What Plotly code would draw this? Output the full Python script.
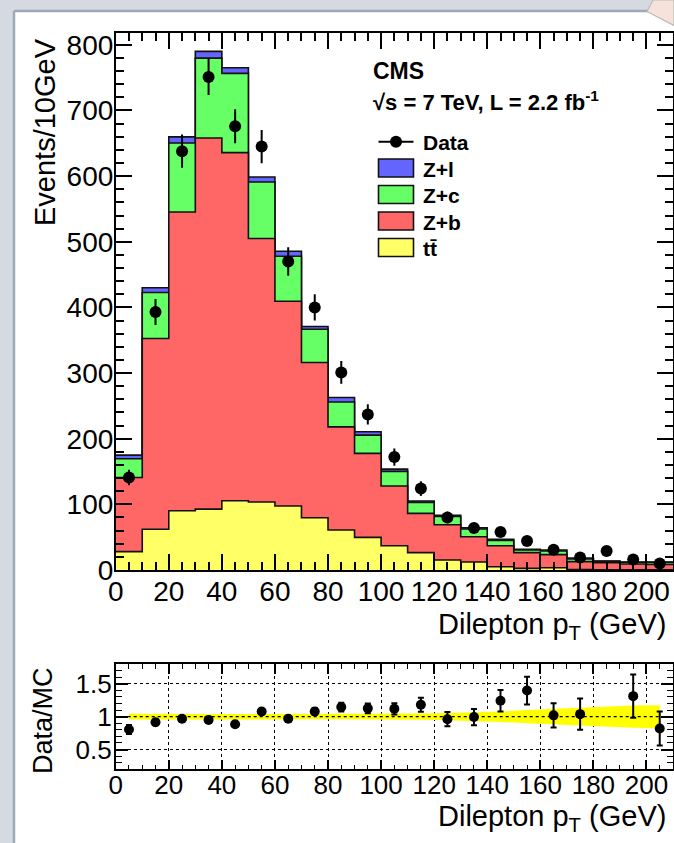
import numpy as np
import plotly.graph_objects as go

# Dilepton pT binning (10 GeV bins from 0 to 210 GeV)
bin_edges = list(range(0, 220, 10))
bin_centers = [e + 5 for e in bin_edges[:-1]]

# Stacked MC components per bin (events / 10 GeV)
ttbar = [28.0, 62.0, 90.3, 92.8, 105.5, 103.5, 97.4, 79.6, 60.9, 49.7, 37.0,
         26.4, 15.2, 12.2, 5.0, 2.5, 3.5, 0.5, 0.3, 0.3, 0.3]
z_b = [113.0, 290.6, 455.1, 565.2, 530.3, 401.4, 312.0, 236.4, 157.1, 127.9, 90.9,
       59.8, 53.8, 38.5, 32.0, 23.9, 19.9, 12.2, 10.9, 8.8, 8.3]
z_c = [28.5, 70.0, 105.0, 121.8, 120.7, 86.1, 68.6, 50.8, 38.0, 27.9, 22.3,
       16.8, 12.5, 11.8, 8.0, 4.1, 5.6, 4.1, 2.0, 2.6, 3.1]
z_l = [5.5, 7.4, 9.3, 10.2, 8.5, 7.7, 7.5, 4.2, 6.8, 5.0, 3.5,
       2.0, 1.7, 1.9, 1.7, 1.0, 1.4, 1.5, 0.5, 0.5, 0.5]

# Observed events
data_counts = [141, 393, 638, 751, 676, 645, 470, 400, 301, 237, 172,
               124, 80, 64, 58, 44, 31, 19, 29, 16, 10]

# Relative MC uncertainty shown as the band in the ratio panel
mc_rel_unc = [0.045, 0.04, 0.04, 0.04, 0.04, 0.04, 0.04, 0.04, 0.04, 0.04, 0.042,
              0.047, 0.055, 0.065, 0.08, 0.10, 0.12, 0.14, 0.155, 0.17, 0.175]

y_ticks_main = [0, 100, 200, 300, 400, 500, 600, 700, 800]
x_ticks = list(range(0, 220, 20))

W, H = 674, 843
FONT = "Liberation Sans, Arial, Helvetica, sans-serif"

def px(x):
    return x / W

def py(y):
    return 1 - y / H

COL_L = "#6464ff"
COL_C = "#66ff66"
COL_B = "#ff6666"
COL_T = "#ffff66"

tt = np.array(ttbar)
cum_t = tt
cum_b = cum_t + np.array(z_b)
cum_c = cum_b + np.array(z_c)
cum_l = cum_c + np.array(z_l)
total_mc = cum_l

fig = go.Figure()

# Stacked histogram: draw the tallest layer first, then overlay the lower ones
for cum, col, name in [(cum_l, COL_L, "Z+l"), (cum_c, COL_C, "Z+c"),
                       (cum_b, COL_B, "Z+b"), (cum_t, COL_T, "tt")]:
    yy = list(cum) + [cum[-1]]
    fig.add_trace(go.Scatter(
        x=bin_edges, y=yy, mode="lines", line_shape="hv",
        line=dict(color="#111111", width=1.6),
        fill="tozeroy", fillcolor=col, name=name, showlegend=False,
        xaxis="x", yaxis="y", hoverinfo="skip"))

data_arr = np.array(data_counts, dtype=float)
fig.add_trace(go.Scatter(
    x=bin_centers, y=data_counts, mode="markers",
    marker=dict(color="black", size=12),
    error_y=dict(type="data", array=np.sqrt(data_arr), width=0,
                 thickness=2, color="black"),
    showlegend=False, xaxis="x", yaxis="y"))

# Ratio panel: MC uncertainty band
unc = np.array(mc_rel_unc)
band_x = bin_centers + bin_centers[::-1]
band_y = list(1 + unc) + list((1 - unc)[::-1])
fig.add_trace(go.Scatter(
    x=band_x, y=band_y, mode="lines", fill="toself",
    fillcolor="#ffff00", line=dict(width=0, color="#ffff00"),
    showlegend=False, xaxis="x2", yaxis="y2", hoverinfo="skip"))

ratio = data_arr / total_mc
ratio_err = np.sqrt(data_arr) / total_mc
r_lo, r_hi = 0.2, 1.8
inside = (ratio > r_lo) & (ratio < r_hi)
ratio_plot = np.where(inside, ratio, np.nan)
fig.add_trace(go.Scatter(
    x=bin_centers, y=ratio_plot, mode="markers",
    marker=dict(color="black", size=10),
    error_y=dict(type="data", array=np.where(inside, ratio_err, 0), width=3,
                 thickness=2, color="black"),
    showlegend=False, xaxis="x2", yaxis="y2"))

x_dom = [px(115.7), px(673)]
tick_font = dict(family=FONT, size=28, color="black")
ratio_tick_font = dict(family=FONT, size=26, color="black")

common_axis = dict(showline=True, linecolor="black", linewidth=1.6,
                   mirror="ticks", ticks="inside", tickcolor="black",
                   tickwidth=1.5, zeroline=False, tickangle=0,
                   automargin=False)

fig.update_layout(
    width=W, height=H,
    autosize=False,
    margin=dict(l=0, r=0, t=0, b=0, pad=0, autoexpand=False),
    paper_bgcolor="#d5dae2",
    plot_bgcolor="white",
    showlegend=False,
    xaxis=dict(domain=x_dom, range=[0, 210], anchor="y",
               tickvals=x_ticks, ticklen=16, showgrid=False,
               tickfont=tick_font, ticklabelstandoff=-4,
               minor=dict(dtick=5, tick0=0, ticklen=8, ticks="inside",
                          tickcolor="black", tickwidth=1.5, showgrid=False),
               **common_axis),
    yaxis=dict(domain=[py(570), py(33)], range=[0, 818], anchor="x",
               tickvals=y_ticks_main, ticklen=16, showgrid=False,
               tickfont=tick_font, ticklabelstandoff=-5,
               minor=dict(dtick=20, tick0=0, ticklen=8, ticks="inside",
                          tickcolor="black", tickwidth=1.5, showgrid=False),
               **common_axis),
    xaxis2=dict(domain=x_dom, range=[0, 210], anchor="y2",
                tickvals=x_ticks, ticklen=10, showgrid=True,
                gridcolor="black", griddash="dot", gridwidth=1.3,
                tickfont=ratio_tick_font, ticklabelstandoff=-8,
                minor=dict(dtick=5, tick0=0, ticklen=5, ticks="inside",
                           tickcolor="black", tickwidth=1.3, showgrid=False),
                **common_axis),
    yaxis2=dict(domain=[py(769.3), py(664)], range=[r_lo, r_hi], anchor="x2",
                tickvals=[0.5, 1, 1.5], ticktext=["0.5", "1", "1.5"],
                ticklen=12, showgrid=True,
                gridcolor="black", griddash="dot", gridwidth=1.3,
                tickfont=ratio_tick_font, ticklabelstandoff=-3,
                minor=dict(dtick=0.1, tick0=0.2, ticklen=6, ticks="inside",
                           tickcolor="black", tickwidth=1.3, showgrid=False),
                **common_axis),
)

shapes = []
# white canvas with border lines and page corner
shapes.append(dict(type="rect", xref="paper", yref="paper",
                   x0=px(15), x1=1.0, y0=0, y1=py(12),
                   fillcolor="white", line=dict(width=0), layer="below"))
shapes.append(dict(type="line", xref="paper", yref="paper",
                   x0=px(14), x1=px(14), y0=0, y1=py(11),
                   line=dict(color="#9ea9b9", width=2.5), layer="below"))
shapes.append(dict(type="line", xref="paper", yref="paper",
                   x0=px(14), x1=px(648), y0=py(11), y1=py(11),
                   line=dict(color="#9ea9b9", width=2.5), layer="below"))
shapes.append(dict(type="path", xref="paper", yref="paper",
                   path=f"M {px(653)} {py(0)} L {px(647)} {py(11.5)} L {px(674)} {py(25.5)} L {px(674)} {py(0)} Z",
                   fillcolor="#f6e2db", line=dict(color="#b6beb6", width=1.2),
                   layer="below"))
# dotted reference line at unity drawn over the band
shapes.append(dict(type="line", xref="x2", yref="y2", x0=0, x1=210, y0=1, y1=1,
                   line=dict(color="black", width=1.3, dash="dot"), layer="above"))

# legend entries
leg_x0, leg_x1 = 378.5, 413.5
shapes.append(dict(type="line", xref="paper", yref="paper",
                   x0=px(leg_x0), x1=px(leg_x1), y0=py(141.7), y1=py(141.7),
                   line=dict(color="black", width=2)))
shapes.append(dict(type="circle", xref="paper", yref="paper",
                   x0=px(396 - 6), x1=px(396 + 6), y0=py(141.7 + 6), y1=py(141.7 - 6),
                   fillcolor="black", line=dict(color="black", width=0)))
legend_items = [("Z+l", COL_L, 159, 177), ("Z+c", COL_C, 185.5, 203.5),
                ("Z+b", COL_B, 212, 230), ("tt\u0304", COL_T, 238.5, 256.5)]
for _, col, y0, y1 in legend_items:
    shapes.append(dict(type="rect", xref="paper", yref="paper",
                       x0=px(leg_x0), x1=px(leg_x1), y0=py(y1), y1=py(y0),
                       fillcolor=col, line=dict(color="#111111", width=1.6)))

fig.update_layout(shapes=shapes)

ann = []
def text(x, y, s, size, bold=False, xanchor="left", angle=0):
    ann.append(dict(xref="paper", yref="paper", x=px(x), y=py(y),
                    text=f"<b>{s}</b>" if bold else s, showarrow=False,
                    xanchor=xanchor, yanchor="middle", textangle=angle,
                    font=dict(family=FONT, size=size, color="black")))

text(371, 71, "CMS", 23, bold=True)
text(371, 101, "\u221as = 7 TeV, L = 2.2 fb<sup>-1</sup>", 22, bold=True)
text(421, 142, "Data", 21, bold=True)
for label, _, y0, y1 in legend_items:
    text(421, (y0 + y1) / 2 + 1, label, 21, bold=True)

text(668, 626, "Dilepton p<sub>T</sub> (GeV)", 29, xanchor="right")
text(45, 132, "Events/10GeV", 29, xanchor="center", angle=-90)
text(668, 818, "Dilepton p<sub>T</sub> (GeV)", 29, xanchor="right")
text(43, 721, "Data/MC", 27, xanchor="center", angle=-90)

fig.update_layout(annotations=ann)

fig.write_html("out.html")
